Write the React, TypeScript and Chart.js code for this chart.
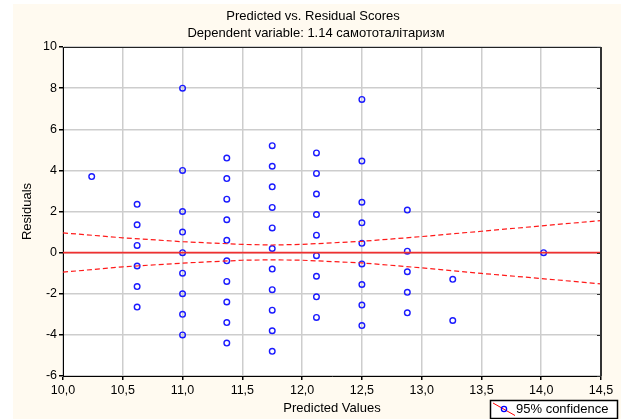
import React, { useEffect, useRef } from "react";
import { Chart, registerables } from "chart.js";

Chart.register(...registerables);

// ---- data ----
const titleLines = ["Predicted vs. Residual Scores", "Dependent variable: 1.14 самототалітаризм"];
const xAxisTitle = "Predicted Values";
const yAxisTitle = "Residuals";
const legendLabel = "95% confidence";

const predictedColumns = [10.24, 10.62, 11.0, 11.37, 11.75, 12.12, 12.5, 12.88, 13.26, 14.02];
const residualsByColumn = [
  [3.7],
  [2.35, 1.35, 0.35, -0.65, -1.65, -2.65],
  [8, 4, 2, 1, 0, -1, -2, -3, -4],
  [4.6, 3.6, 2.6, 1.6, 0.6, -0.4, -1.4, -2.4, -3.4, -4.4],
  [5.2, 4.2, 3.2, 2.2, 1.2, 0.2, -0.8, -1.8, -2.8, -3.8, -4.8],
  [4.85, 3.85, 2.85, 1.85, 0.85, -0.15, -1.15, -2.15, -3.15],
  [7.45, 4.45, 2.45, 1.45, 0.45, -0.55, -1.55, -2.55, -3.55],
  [2.07, 0.07, -0.93, -1.93, -2.93],
  [-1.3, -3.3],
  [0],
];

const fitX = [10.0, 14.5];
const fitY = [0, 0];

const bandX = [10.0, 10.5, 11.0, 11.5, 11.75, 12.0, 12.5, 13.0, 13.5, 14.0, 14.5];
const bandUpper = [0.96, 0.72, 0.53, 0.4, 0.37, 0.4, 0.55, 0.78, 1.04, 1.3, 1.56];
const bandLower = [-0.95, -0.69, -0.51, -0.37, -0.35, -0.37, -0.5, -0.74, -1.01, -1.26, -1.52];

const xMin = 10.0;
const xMax = 14.5;
const xStep = 0.5;
const yMin = -6;
const yMax = 10;
const yStep = 2;

const FONT = "'Liberation Sans', Arial, sans-serif";

export default function App() {
  const ref = useRef<HTMLCanvasElement | null>(null);

  useEffect(() => {
    const canvas = ref.current;
    if (!canvas) return;

    const points: { x: number; y: number }[] = [];
    predictedColumns.forEach((px, i) => {
      residualsByColumn[i].forEach((r) => points.push({ x: px, y: r }));
    });

    const decorPlugin = {
      id: "decor",
      beforeDraw(chart: any) {
        const { ctx, chartArea } = chart;
        ctx.save();
        ctx.fillStyle = "#ffffff";
        ctx.fillRect(0, 0, chart.width, chart.height);
        ctx.fillStyle = "#FFFAF0";
        ctx.fillRect(13, 4, 608, chart.height - 4);
        ctx.fillStyle = "#ffffff";
        ctx.fillRect(chartArea.left, chartArea.top, chartArea.right - chartArea.left, chartArea.bottom - chartArea.top);
        ctx.restore();
      },
      afterDraw(chart: any) {
        const { ctx, chartArea, scales } = chart;
        ctx.save();
        // top border
        ctx.strokeStyle = "#222";
        ctx.lineWidth = 1;
        ctx.beginPath();
        ctx.moveTo(chartArea.left, chartArea.top + 0.5);
        ctx.lineTo(chartArea.right, chartArea.top + 0.5);
        ctx.stroke();
        // right border
        ctx.strokeStyle = "#333";
        ctx.lineWidth = 2;
        ctx.beginPath();
        ctx.moveTo(chartArea.right, chartArea.top);
        ctx.lineTo(chartArea.right, chartArea.bottom);
        ctx.stroke();
        // inner ticks on right border
        ctx.lineWidth = 1;
        for (let v = yMin; v <= yMax; v += yStep) {
          const y = Math.round(scales.y.getPixelForValue(v)) + 0.5;
          ctx.beginPath();
          ctx.moveTo(chartArea.right - 4, y);
          ctx.lineTo(chartArea.right, y);
          ctx.stroke();
        }
        // titles
        ctx.fillStyle = "#000";
        ctx.font = `13px ${FONT}`;
        ctx.textAlign = "center";
        ctx.textBaseline = "middle";
        ctx.fillText(titleLines[0], 313, 16);
        ctx.fillText(titleLines[1], 316, 33);
        // x axis title
        ctx.fillText(xAxisTitle, (chartArea.left + chartArea.right) / 2, 408);
        // y axis title
        ctx.save();
        ctx.translate(27, (chartArea.top + chartArea.bottom) / 2);
        ctx.rotate(-Math.PI / 2);
        ctx.fillText(yAxisTitle, 0, 0);
        ctx.restore();
        // legend
        ctx.fillStyle = "#ffffff";
        ctx.fillRect(490, 400, 128, 18);
        ctx.strokeStyle = "#000";
        ctx.lineWidth = 1.5;
        ctx.strokeRect(490.5, 400.5, 127, 18);
        ctx.strokeStyle = "#ff0000";
        ctx.lineWidth = 1;
        ctx.beginPath();
        ctx.moveTo(493, 403);
        ctx.lineTo(515, 415.5);
        ctx.stroke();
        ctx.strokeStyle = "#0000ff";
        ctx.lineWidth = 1.3;
        ctx.beginPath();
        ctx.arc(504, 409, 2.6, 0, Math.PI * 2);
        ctx.stroke();
        ctx.fillStyle = "#000";
        ctx.textAlign = "left";
        ctx.fillText(legendLabel, 516, 409.5);
        ctx.restore();
      },
    };

    const chart = new Chart(canvas, {
      type: "scatter",
      data: {
        datasets: [
          {
            label: "upper",
            data: bandX.map((x, i) => ({ x, y: bandUpper[i] })),
            showLine: true,
            borderColor: "#ff1a1a",
            borderWidth: 1.2,
            borderDash: [5, 3],
            pointRadius: 0,
            fill: false,
          },
          {
            label: "lower",
            data: bandX.map((x, i) => ({ x, y: bandLower[i] })),
            showLine: true,
            borderColor: "#ff1a1a",
            borderWidth: 1.2,
            borderDash: [5, 3],
            pointRadius: 0,
            fill: false,
          },
          {
            label: "fit",
            data: fitX.map((x, i) => ({ x, y: fitY[i] })),
            showLine: true,
            borderColor: "#f03030",
            borderWidth: 1.6,
            pointRadius: 0,
            fill: false,
          },
          {
            label: legendLabel,
            data: points,
            pointStyle: "circle",
            pointRadius: 2.8,
            pointBorderWidth: 1.4,
            pointBorderColor: "#1a1aff",
            pointBackgroundColor: "rgba(255,255,255,0)",
            showLine: false,
          },
        ],
      },
      options: {
        animation: false,
        responsive: false,
        maintainAspectRatio: false,
        devicePixelRatio: 1,
        layout: { padding: { top: 47, right: 29, left: 0, bottom: 0 } },
        plugins: {
          legend: { display: false },
          title: { display: false },
          tooltip: { enabled: false },
        },
        scales: {
          x: {
            type: "linear",
            min: xMin,
            max: xMax,
            afterFit: (s: any) => {
              s.height = 43;
            },
            border: { display: true, color: "#000", width: 1 },
            grid: { color: "#cdcdcd", lineWidth: 1.5, tickLength: 4, tickColor: "#000", drawTicks: true },
            ticks: {
              stepSize: xStep,
              color: "#000",
              padding: 3,
              maxRotation: 0,
              font: { family: FONT, size: 12.5 },
              callback: (v: any) => Number(v).toFixed(1).replace(".", ","),
            },
          },
          y: {
            type: "linear",
            min: yMin,
            max: yMax,
            afterFit: (s: any) => {
              s.width = 63;
            },
            border: { display: true, color: "#000", width: 1 },
            grid: { color: "#cdcdcd", lineWidth: 1.5, tickLength: 4, tickColor: "#000", drawTicks: true },
            ticks: {
              stepSize: yStep,
              color: "#000",
              padding: 2,
              font: { family: FONT, size: 12.5 },
              callback: (v: any) => String(v),
            },
          },
        },
      },
      plugins: [decorPlugin],
    } as any);

    return () => chart.destroy();
  }, []);

  return (
    <div style={{ position: "absolute", left: 0, top: 0, width: 630, height: 419 }}>
      <canvas ref={ref} width={630} height={419} style={{ width: 630, height: 419, display: "block" }} />
    </div>
  );
}
